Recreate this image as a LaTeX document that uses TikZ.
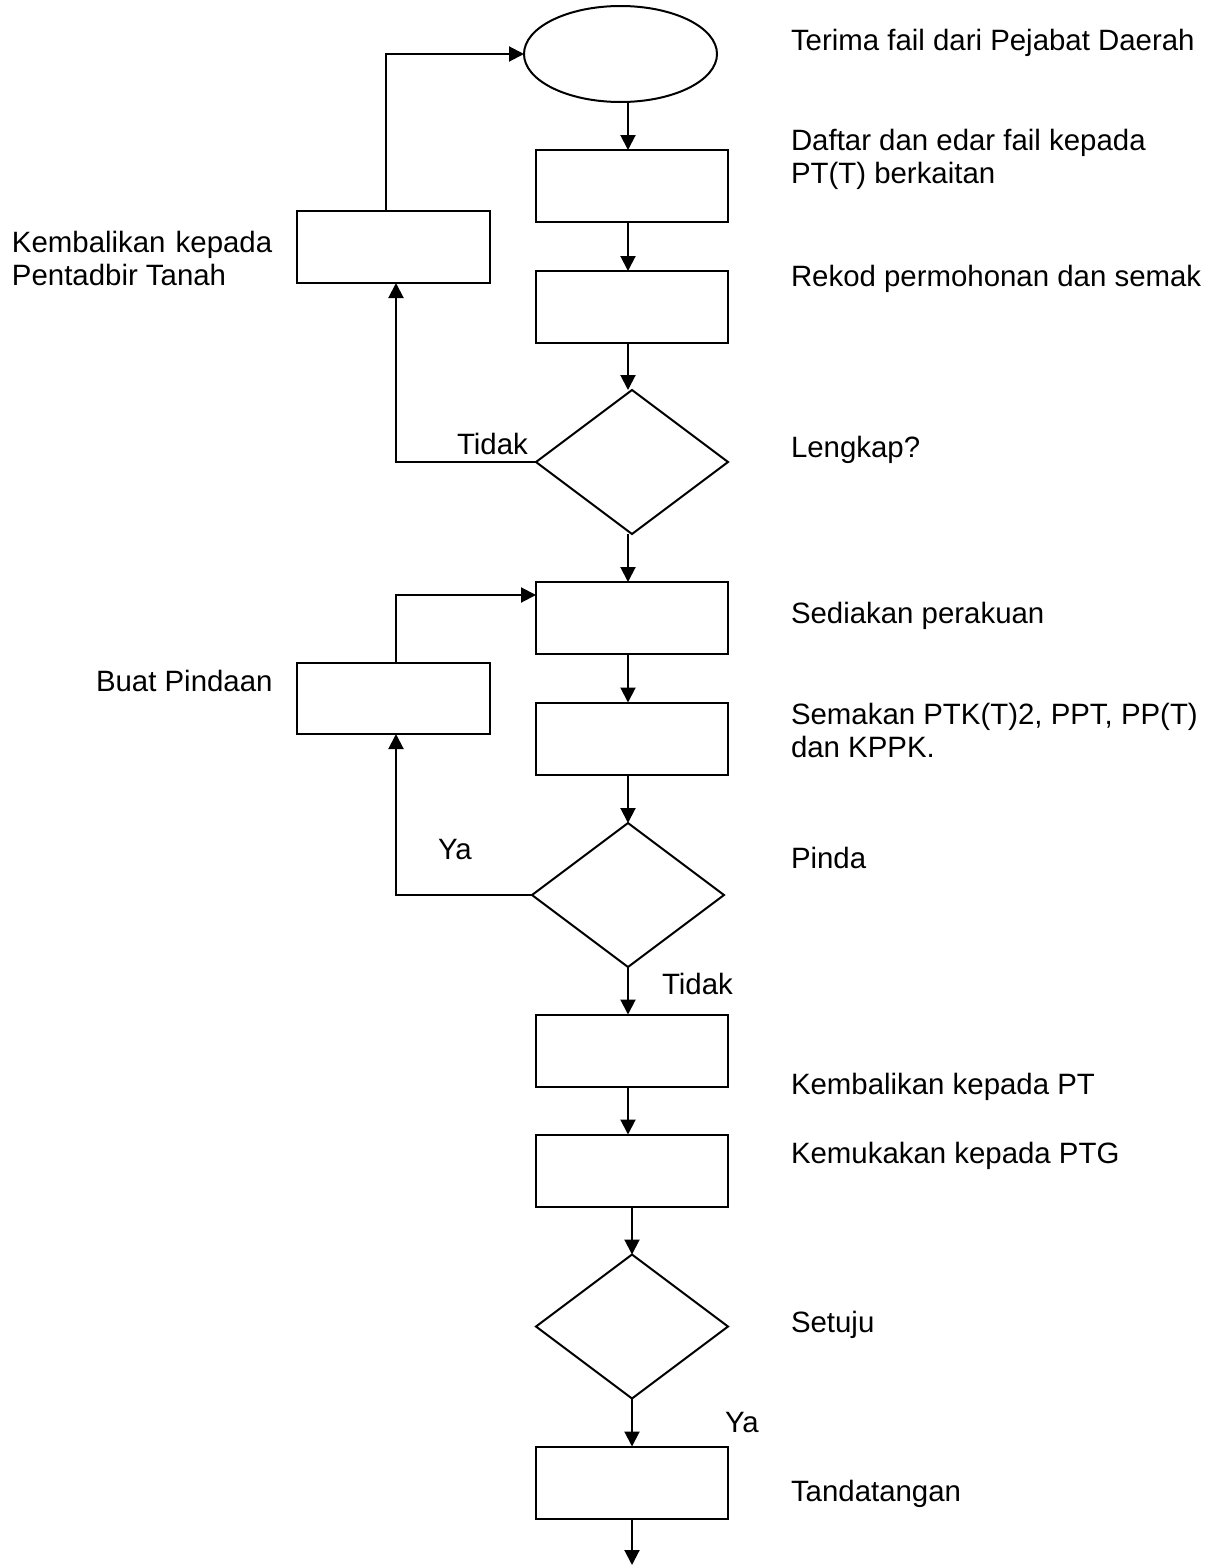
\documentclass[tikz,border=0pt]{standalone}
\usepackage{fontspec}
\setmainfont{Liberation Sans}
\usetikzlibrary{shapes.geometric,arrows.meta}
\begin{document}
\begin{tikzpicture}[x=1pt,y=-1pt,
  every node/.style={inner sep=0pt, outer sep=0pt},
  box/.style={draw, line width=2pt, rectangle, minimum width=192pt, minimum height=72pt},
  dec/.style={draw, line width=2pt, diamond, minimum width=192pt, minimum height=144pt},
  term/.style={draw, line width=2pt, ellipse, minimum width=193pt, minimum height=96pt},
  arr/.style={line width=2pt, -{Triangle[length=15pt,width=15pt]}},
  lbl/.style={anchor=base west, font=\fontsize{29.4}{33.5}\selectfont}]
\useasboundingbox (0,0) rectangle (1210,1566);
% shapes
\node[term] (ell) at (620.5,54) {};
\node[box] (b1) at (632,186) {};
\node[box] (b2) at (632,307) {};
\node[dec] (d1) at (632,462) {};
\node[box] (b3) at (632,618) {};
\node[box] (b4) at (632,738.5) {};
\node[dec] (d2) at (628,895) {};
\node[box] (b5) at (632,1050.5) {};
\node[box] (b6) at (632,1170.5) {};
\node[dec] (d3) at (632,1326.5) {};
\node[box] (b7) at (632,1482.5) {};
\node[box, minimum width=193pt] (bA) at (393.5,247) {};
\node[box, minimum width=193pt, minimum height=71pt] (bB) at (393.5,698.5) {};
\coordinate (cA) at (628,0);
\coordinate (cB) at (632,0);
\coordinate (endp) at (632,1565);
% main flow
\draw[arr] (ell.south -| cA) -- (b1.north -| cA);
\draw[arr] (b1.south -| cA) -- (b2.north -| cA);
\draw[arr] (b2.south -| cA) -- (d1.north -| cA);
\draw[arr] (d1.south -| cA) -- (b3.north -| cA);
\draw[arr] (b3.south -| cA) -- (b4.north -| cA);
\draw[arr] (b4.south -| cA) -- (d2.north -| cA);
\draw[arr] (d2.south -| cA) -- (b5.north -| cA);
\draw[arr] (b5.south -| cA) -- (b6.north -| cA);
\draw[arr] (b6.south -| cB) -- (d3.north -| cB);
\draw[arr] (d3.south) -- (b7.north);
\draw[arr] (b7.south) -- (endp);
% loops
\draw[arr] (d1.west) -| ([xshift=2.5pt]bA.south);
\draw[arr] ([xshift=-7.5pt]bA.north) |- (ell.west);
\draw[arr] (d2.west) -| ([xshift=2.5pt]bB.south);
\draw[arr] ([xshift=2.5pt]bB.north) |- ([yshift=23pt]b3.west);
% labels
\node[lbl] (t1) at (791,50) {Terima fail dari Pejabat Daerah};
\node[lbl] (t2) at (791,150) {\begin{tabular}[t]{@{}l@{}}Daftar dan edar fail kepada\\PT(T) berkaitan\end{tabular}};
\node[lbl] (t3) at (791,286) {Rekod permohonan dan semak};
\node[lbl] (t4) at (791,457) {Lengkap?};
\node[lbl] (t5) at (791,623) {Sediakan perakuan};
\node[lbl] (t6) at (791,724) {\begin{tabular}[t]{@{}l@{}}Semakan PTK(T)2, PPT, PP(T)\\dan KPPK.\end{tabular}};
\node[lbl] (t7) at (791,868) {Pinda};
\node[lbl] (t8) at (791,1094) {Kembalikan kepada PT};
\node[lbl] (t9) at (791,1163) {Kemukakan kepada PTG};
\node[lbl] (t10) at (791,1332) {Setuju};
\node[lbl] (t11) at (791,1501) {Tandatangan};
\node[lbl] (tA) at (12,252) {\begin{tabular}[t]{@{}l@{}}Kembalikan\hspace{2pt} kepada\\Pentadbir Tanah\end{tabular}};
\node[lbl] (tB) at (96,691) {Buat Pindaan};
\node[lbl] (y1) at (457,454) {Tidak};
\node[lbl] (y2) at (438,859) {Ya};
\node[lbl] (y3) at (662,994) {Tidak};
\node[lbl] (y4) at (725,1432) {Ya};
\end{tikzpicture}
\end{document}
